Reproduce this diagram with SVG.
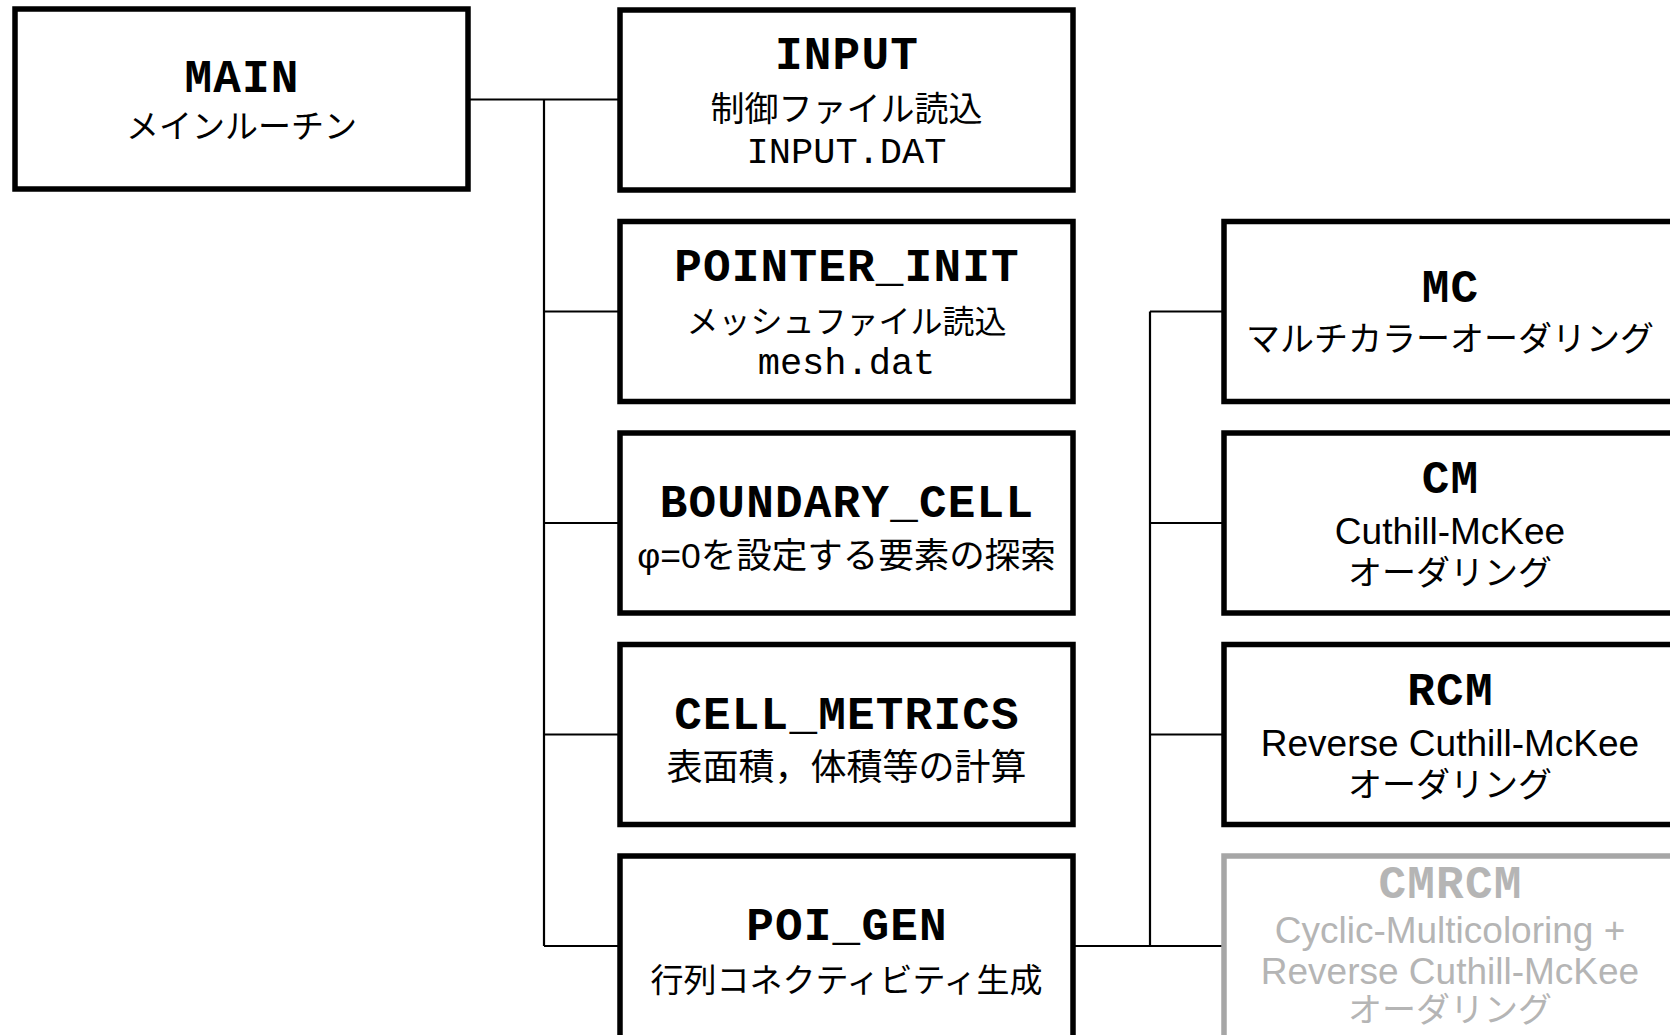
<svg xmlns="http://www.w3.org/2000/svg" width="1670" height="1035" viewBox="0 0 1670 1035">
<style>
.box{fill:#fff;stroke:#000;stroke-width:5.5}
.gbox{fill:#fff;stroke:#a6a6a6;stroke-width:5.5}
.con{fill:none;stroke:#000;stroke-width:2.2}
text{text-anchor:middle}
.t{font-family:"Courier New","Liberation Mono",monospace;font-weight:bold;font-size:46px;letter-spacing:1.2px;fill:#000}
.m{font-family:"Courier New","Liberation Mono",monospace;font-size:37px;fill:#000}
.j{font-family:"Liberation Sans","Noto Sans CJK JP",sans-serif;font-size:34px;fill:#000}
.e{font-family:"Liberation Sans",Arial,sans-serif;font-size:37px;fill:#000}
.g{fill:#b5b5b5}
</style>
<rect width="1670" height="1035" fill="#fff"/>
<g id="connectors">
<path class="con" d="M468,99.5H620M544,99.5V946M544,311.5H620M544,523H620M544,734.5H620M544,946H620"/>
<path class="con" d="M1073,946H1224M1150,311.5V946M1150,311.5H1224M1150,523H1224M1150,734.5H1224"/>
</g>
<g id="main">
<rect class="box" x="15" y="9" width="453" height="180"/>
<text class="t" x="242" y="91.5">MAIN</text>
<text class="j" x="241.5" y="138" style="font-size:33px">メインルーチン</text>
</g>
<g id="input">
<rect class="box" x="620" y="10" width="453" height="180"/>
<text class="t" x="847" y="69">INPUT</text>
<text class="j" x="846.5" y="121">制御ファイル読込</text>
<text class="m" x="846.5" y="163">INPUT.DAT</text>
</g>
<g id="pointer_init">
<rect class="box" x="620" y="221.5" width="453" height="180"/>
<text class="t" x="847" y="281">POINTER_INIT</text>
<text class="j" x="846.5" y="333" style="font-size:32px">メッシュファイル読込</text>
<text class="m" x="846.5" y="374">mesh.dat</text>
</g>
<g id="boundary_cell">
<rect class="box" x="620" y="433" width="453" height="180"/>
<text class="t" x="847" y="516.5">BOUNDARY_CELL</text>
<text class="j" x="846.5" y="568" style="font-size:35.5px">φ=0を設定する要素の探索</text>
</g>
<g id="cell_metrics">
<rect class="box" x="620" y="644.5" width="453" height="180"/>
<text class="t" x="847" y="728.5">CELL_METRICS</text>
<text class="j" x="846.5" y="780" style="font-size:36px">表面積，体積等の計算</text>
</g>
<g id="poi_gen">
<rect class="box" x="620" y="856" width="453" height="185"/>
<text class="t" x="847" y="940">POI_GEN</text>
<text class="j" x="846.5" y="992" style="font-size:33px">行列コネクティビティ生成</text>
</g>
<g id="mc">
<rect class="box" x="1224" y="221.5" width="460" height="180"/>
<text class="t" x="1450.5" y="301.5">MC</text>
<text class="j" x="1450" y="351">マルチカラーオーダリング</text>
</g>
<g id="cm">
<rect class="box" x="1224" y="433" width="460" height="180"/>
<text class="t" x="1450.5" y="493">CM</text>
<text class="e" x="1450" y="544">Cuthill-McKee</text>
<text class="j" x="1450" y="585">オーダリング</text>
</g>
<g id="rcm">
<rect class="box" x="1224" y="644.5" width="460" height="180"/>
<text class="t" x="1450.5" y="705">RCM</text>
<text class="e" x="1450" y="756">Reverse Cuthill-McKee</text>
<text class="j" x="1450" y="797">オーダリング</text>
</g>
<g id="cmrcm">
<rect class="gbox" x="1224" y="856" width="460" height="185"/>
<text class="t g" x="1450.5" y="898">CMRCM</text>
<text class="e g" x="1450" y="942.5">Cyclic-Multicoloring +</text>
<text class="e g" x="1450" y="984">Reverse Cuthill-McKee</text>
<text class="j g" x="1450" y="1022">オーダリング</text>
</g>
</svg>
